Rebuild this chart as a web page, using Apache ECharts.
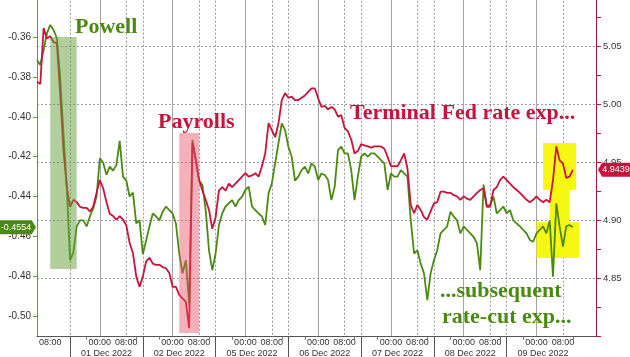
<!DOCTYPE html>
<html><head><meta charset="utf-8">
<script src="https://cdn.jsdelivr.net/npm/echarts@6/dist/echarts.min.js"></script>
<style>html,body{margin:0;padding:0;background:#fff}#c{width:630px;height:357px}</style>
</head><body><div id="c"></div>
<script>
// ---- categories / tick labels ----
const sessionDates = ['30 Nov 2022','01 Dec 2022','02 Dec 2022','05 Dec 2022','06 Dec 2022','07 Dec 2022','08 Dec 2022','09 Dec 2022'];
const eveDates = [null,'30 Nov 2022','01 Dec 2022','04 Dec 2022','05 Dec 2022','06 Dec 2022','07 Dec 2022','08 Dec 2022'];
const firstHours = [4,5,6,7,8,9,10,11,12,13];
const sessionHours = [15,16,17,18,19,20,21,22,23,0,1,2,3,4,5,6,7,8,9,10,11,12];
const tailHours = [13,14,15,16,17,18];
const leftTicks = [-0.50,-0.48,-0.46,-0.44,-0.42,-0.40,-0.38,-0.36];

// ---- series values ----
// green: subsequent rate-cut expectations (left axis)
const rateCutExp = [
-0.3714,-0.3739,-0.3664,-0.3580,-0.3538,-0.3563,-0.3605,-0.3798,-0.4083,-0.4350,
-0.4720,-0.4680,-0.4550,-0.4520,-0.4520,-0.4550,-0.4500,-0.4460,-0.4400,-0.4208,
-0.4230,-0.4290,-0.4250,-0.4270,-0.4242,-0.4120,-0.4300,-0.4320,-0.4400,-0.4380,
-0.4535,-0.4520,-0.4690,-0.4620,-0.4550,-0.4485,-0.4500,-0.4520,-0.4476,-0.4450,
-0.4468,-0.4485,-0.4535,-0.4686,-0.4786,-0.4720,-0.4937,-0.4116,-0.4217,-0.4320,
-0.4342,-0.4468,-0.4670,-0.4770,-0.4686,-0.4543,-0.4485,-0.4450,-0.4434,-0.4418,
-0.4450,-0.4418,-0.4400,-0.4367,-0.4350,-0.4450,-0.4468,-0.4485,-0.4500,-0.4543,
-0.4384,-0.4334,-0.4233,-0.4133,-0.4032,-0.4066,-0.4150,-0.4200,-0.4320,-0.4300,
-0.4267,-0.4250,-0.4284,-0.4233,-0.4250,-0.4317,-0.4284,-0.4292,-0.4317,-0.4418,
-0.4350,-0.4166,-0.4150,-0.4183,-0.4183,-0.4267,-0.4418,-0.4300,-0.4200,-0.4183,
-0.4200,-0.4183,-0.4183,-0.4200,-0.4217,-0.4233,-0.4367,-0.4284,-0.4300,-0.4300,
-0.4267,-0.4284,-0.4300,-0.4520,-0.4686,-0.4670,-0.4736,-0.4786,-0.4920,-0.4786,
-0.4720,-0.4670,-0.4585,-0.4568,-0.4550,-0.4476,-0.4500,-0.4520,-0.4585,-0.4550,
-0.4568,-0.4585,-0.4602,-0.4635,-0.4770,-0.4340,-0.4450,-0.4440,-0.4400,-0.4485,
-0.4468,-0.4450,-0.4485,-0.4468,-0.4520,-0.4535,-0.4550,-0.4568,-0.4585,-0.4618,
-0.4627,-0.4585,-0.4568,-0.4550,-0.4585,-0.4520,-0.4803,-0.4434,-0.4550,-0.4652,
-0.4550,-0.4543,-0.4554
];
// red: terminal Fed rate expectations (right axis)
const terminalRate = [
5.0199,5.0179,5.0660,5.0570,5.0590,5.0540,5.0530,5.0100,4.9610,4.9290,
4.9120,4.9180,4.9160,4.9120,4.9110,4.9110,4.9080,4.9120,4.9240,4.9350,
4.9280,4.9160,4.9060,4.9040,4.9010,4.9040,4.9010,4.8960,4.8810,4.8720,
4.8520,4.8430,4.8520,4.8650,4.8680,4.8630,4.8620,4.8620,4.8600,4.8590,
4.8550,4.8430,4.8430,4.8360,4.8330,4.8300,4.8073,4.9670,4.9520,4.9350,
4.9260,4.9180,4.9093,4.8930,4.9030,4.9260,4.9290,4.9260,4.9320,4.9290,
4.9320,4.9350,4.9380,4.9410,4.9380,4.9390,4.9410,4.9380,4.9470,4.9580,
4.9840,4.9780,4.9720,4.9840,5.0040,5.0100,5.0060,5.0070,5.0040,5.0040,
5.0060,5.0080,5.0110,5.0140,5.0140,5.0055,4.9980,4.9990,4.9960,4.9980,
4.9960,4.9897,4.9910,4.9800,4.9770,4.9700,4.9580,4.9600,4.9660,4.9650,
4.9640,4.9630,4.9640,4.9640,4.9640,4.9620,4.9550,4.9470,4.9470,4.9470,
4.9520,4.9580,4.9450,4.9136,4.9064,4.9136,4.9093,4.9030,4.9010,4.9080,
4.9150,4.9160,4.9250,4.9250,4.9240,4.9240,4.9220,4.9210,4.9180,4.9210,
4.9190,4.9180,4.9210,4.9240,4.9265,4.9280,4.9120,4.9120,4.9265,4.9290,
4.9350,4.9380,4.9350,4.9320,4.9290,4.9265,4.9240,4.9210,4.9180,4.9160,
4.9180,4.9210,4.9180,4.9160,4.9180,4.9160,4.9350,4.9640,4.9520,4.9495,
4.9370,4.9380,4.9439
];
const lastRateCut = -0.4554;
const lastTerminal = 4.9439;

// highlight regions (category index ranges and axis values)
const powellBox = {from: 4, to: 12, top: 5.0584, bottom: 4.8584};
const payrollsBox = {from: 43, to: 49, top: 4.9756, bottom: 4.8032};
const yellowBoxes = [
  {from: 153, to: 163, top: -0.4131, bottom: -0.4367},
  {from: 155, to: 161, top: -0.4352, bottom: -0.4583},
  {from: 151, to: 164, top: -0.4528, bottom: -0.4709}
];

// ---- build category axis ----
const categories = [];
const timeLabelIdx = new Set(), zeroIdx = new Set(), dotIdx = new Set(),
      startIdx = new Set(), centerIdx = new Set(), minorIdx = new Set();
const hh = h => (h < 10 ? '0' : '') + h + ':00';
firstHours.forEach(h => {
  if (h === 8) timeLabelIdx.add(categories.length);
  categories.push(sessionDates[0] + ' ' + hh(h));
});
for (let s = 1; s < sessionDates.length; s++) {
  sessionHours.forEach((h, k) => {
    const i = categories.length;
    if (k === 0) { startIdx.add(i); dotIdx.add(i); }
    if (h === 0) { zeroIdx.add(i); timeLabelIdx.add(i); }
    if (h === 8) { dotIdx.add(i); timeLabelIdx.add(i); }
    if (k === 11) centerIdx.add(i);
    if (h === 20 || h === 11) minorIdx.add(i);
    categories.push((h >= 15 ? eveDates[s] : sessionDates[s]) + ' ' + hh(h));
  });
}
tailHours.forEach(h => categories.push(sessionDates[7] + ' ' + hh(h)));
const lastIdx = categories.length - 1;

const GREEN = '#4b8a12', RED = '#c8143c';
const axisFont = 'Liberation Sans';

const chart = echarts.init(document.getElementById('c'), null, {renderer: 'canvas'});
chart.setOption({
  animation: false,
  backgroundColor: '#fff',
  grid: {left: 37, right: 34, top: -11.3, bottom: 20.3, containLabel: false, outerBoundsMode: 'none'},
  xAxis: [
    {
      type: 'category', data: categories, boundaryGap: false, position: 'bottom',
      axisLine: {show: true, lineStyle: {color: '#555', width: 1}},
      axisTick: {show: true, interval: i => minorIdx.has(i), length: 3, lineStyle: {color: '#777'}},
      axisLabel: {interval: i => timeLabelIdx.has(i), formatter: v => v.slice(-5),
                  fontSize: 9, color: '#333', margin: 1, fontFamily: axisFont},
      splitLine: {show: true, interval: i => zeroIdx.has(i), lineStyle: {color: '#a3a3a3', width: 1}}
    },
    {
      type: 'category', data: categories, boundaryGap: false, position: 'bottom',
      axisLine: {show: false},
      axisTick: {show: true, interval: i => startIdx.has(i), length: 22, lineStyle: {color: '#555'}},
      axisLabel: {interval: i => centerIdx.has(i), formatter: v => v.slice(0, 11),
                  fontSize: 9, color: '#333', margin: 12, fontFamily: axisFont},
      splitLine: {show: true, interval: i => dotIdx.has(i), lineStyle: {color: '#9a9a9a', type: [2, 2]}}
    }
  ],
  yAxis: [
    {
      type: 'value', position: 'left', min: -0.5104, max: -0.3356,
      axisLine: {show: true, lineStyle: {color: '#6a9a2a'}},
      axisTick: {show: true, customValues: leftTicks, length: 4, lineStyle: {color: '#6a9a2a'}},
      axisLabel: {customValues: leftTicks, formatter: v => v.toFixed(2), color: '#333',
                  fontSize: 10, margin: 6, fontFamily: axisFont},
      splitLine: {show: false}
    },
    {
      type: 'value', position: 'right', min: 4.80, max: 5.10, interval: 0.05,
      axisLine: {show: true, lineStyle: {color: '#9b1b30'}},
      axisTick: {show: true, length: 5, lineStyle: {color: RED}},
      minorTick: {show: true, splitNumber: 2, length: 5, lineStyle: {color: RED}},
      axisLabel: {formatter: v => (v < 4.81 || v > 5.09) ? '' : v.toFixed(2), color: '#333',
                  fontSize: 9.5, margin: 7, fontFamily: axisFont},
      splitLine: {show: true, lineStyle: {color: '#a0a0a0', type: [2, 2]}}
    }
  ],
  series: [
    {
      name: 'Subsequent rate-cut exp', type: 'line', xAxisIndex: 0, yAxisIndex: 0,
      data: rateCutExp, showSymbol: false, symbol: 'none',
      lineStyle: {color: GREEN, width: 1.8}, itemStyle: {color: GREEN},
      markArea: {
        silent: true, z: 1,
        itemStyle: {color: '#f7f714'},
        data: yellowBoxes.map(b => [{xAxis: b.from, yAxis: b.top}, {xAxis: b.to, yAxis: b.bottom}])
      },
      markPoint: {
        silent: true, z: 6, animation: false,
        data: [{
          coord: [0, lastRateCut],
          symbol: 'path://M0,0 L30,0 L34,7 L30,14 L0,14 Z',
          symbolSize: [36, 14], symbolOffset: [-19, 0], symbolKeepAspect: false,
          itemStyle: {color: GREEN},
          label: {show: true, position: 'inside', formatter: lastRateCut.toFixed(4), color: '#fff',
                  fontSize: 9, fontFamily: axisFont, offset: [-2, 0]}
        }]
      }
    },
    {
      name: 'Terminal Fed rate exp', type: 'line', xAxisIndex: 0, yAxisIndex: 1,
      data: terminalRate, showSymbol: false, symbol: 'none',
      lineStyle: {color: RED, width: 1.8}, itemStyle: {color: RED},
      markArea: {
        silent: true, z: 5,
        data: [
          [{xAxis: powellBox.from, yAxis: powellBox.top, itemStyle: {color: 'rgba(100,160,60,0.5)'}},
           {xAxis: powellBox.to, yAxis: powellBox.bottom}],
          [{xAxis: payrollsBox.from, yAxis: payrollsBox.top, itemStyle: {color: 'rgba(235,80,100,0.45)'}},
           {xAxis: payrollsBox.to, yAxis: payrollsBox.bottom}]
        ]
      },
      markPoint: {
        silent: true, z: 6, animation: false,
        data: [{
          coord: [lastIdx, lastTerminal],
          symbol: 'path://M4,0 L34,0 L34,14 L4,14 L0,7 Z',
          symbolSize: [34, 14], symbolOffset: [19, 0], symbolKeepAspect: false,
          itemStyle: {color: RED},
          label: {show: true, position: 'inside', formatter: lastTerminal.toFixed(4), color: '#fff',
                  fontSize: 9, fontFamily: axisFont, offset: [1, 0]}
        }]
      }
    }
  ],
  graphic: [
    {type: 'text', x: 75, y: 27, z: 10, style: {text: 'Powell', font: 'bold 22px "Liberation Serif"', fill: GREEN, verticalAlign: 'middle'}},
    {type: 'text', x: 158, y: 122, z: 10, style: {text: 'Payrolls', font: 'bold 22px "Liberation Serif"', fill: RED, verticalAlign: 'middle'}},
    {type: 'text', x: 350, y: 113, z: 10, style: {text: 'Terminal Fed rate exp...', font: 'bold 22px "Liberation Serif"', fill: RED, verticalAlign: 'middle'}},
    {type: 'text', x: 440, y: 291, z: 10, style: {text: '...subsequent', font: 'bold 22px "Liberation Serif"', fill: GREEN, verticalAlign: 'middle'}},
    {type: 'text', x: 442, y: 317, z: 10, style: {text: 'rate-cut exp...', font: 'bold 22px "Liberation Serif"', fill: GREEN, verticalAlign: 'middle'}}
  ]
});
</script>
</body></html>
